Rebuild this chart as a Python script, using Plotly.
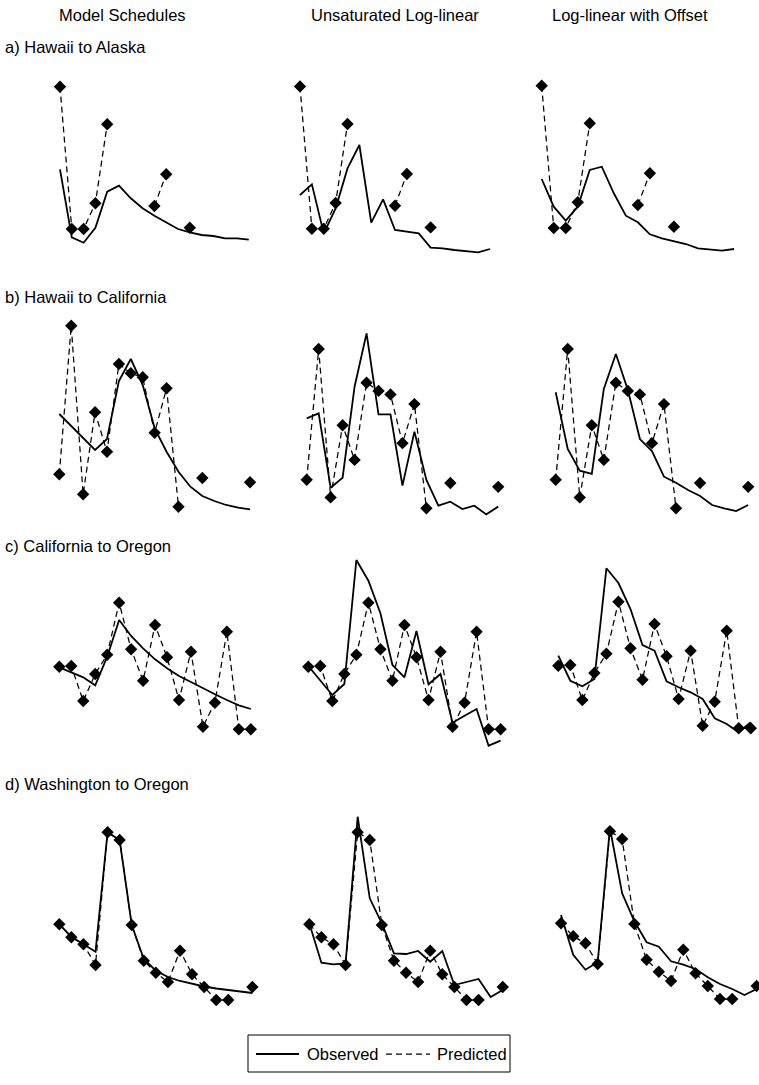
import plotly.graph_objects as go

W, H = 759, 1085

# 17 consecutive periods per flow
periods = list(range(17))

# Predicted values per origin-destination flow (None = no prediction for that period)
pred_hi_ak = [168.3, 26.0, 26.0, 51.7, 130.7, None, None, None, 49.0, 80.7, None, 27.3,
              None, None, None, None, None]
pred_hi_ca = [40.7, 189.3, 20.7, 102.7, 63.3, 151.0, 141.7, 137.7, 82.3, 126.7, 8.3, None,
              37.0, None, None, None, 32.7]
pred_ca_or = [93.3, 94.0, 59.0, 86.0, 105.3, 157.3, 110.7, 79.3, 135.0, 102.7, 60.0, 108.3,
              33.3, 57.3, 128.3, 30.7, 30.7]
pred_wa_or = [85.7, 72.7, 65.7, 45.0, 177.7, 170.0, 85.0, 49.3, 37.3, 28.0, 59.3, 35.7,
              23.0, 10.0, 10.0, None, 23.0]

# Observed values per flow, one list for each model
obs_hi_ak_schedule = [85.7, 17.7, 12.3, 27.3, 63.3, 69.3, 56.7, 46.7, 39.3, 32.7, 26.0, 22.7,
                      20.0, 19.0, 16.7, 16.7, 15.3]
obs_hi_ak_loglin = [59.7, 70.3, 21.3, 46.3, 86.3, 109.7, 32.0, 55.3, 24.7, 23.0, 21.3, 7.0,
                    6.3, 4.7, 3.3, 2.3, 5.7]
obs_hi_ak_offset = [75.0, 47.3, 33.3, 47.3, 84.0, 87.3, 60.7, 38.3, 31.7, 19.7, 15.7, 12.7,
                    10.0, 5.7, 4.7, 3.3, 5.0]

obs_hi_ca_schedule = [101.0, 89.0, 76.7, 65.0, 76.0, 134.0, 156.0, 130.0, 86.7, 63.3, 43.3,
                      28.3, 19.0, 14.0, 10.0, 7.3, 5.7]
obs_hi_ca_loglin = [110.5, 116.2, 31.7, 43.1, 146.5, 207.1, 115.1, 115.1, 34.0, 95.4, 40.5,
                    11.3, 15.8, 7.5, 11.3, 1.4, 10.2]
obs_hi_ca_offset = [140.1, 75.7, 51.1, 47.3, 143.9, 183.6, 142.7, 87.0, 73.4, 44.2, 37.4,
                    29.1, 22.3, 12.0, 8.3, 5.2, 12.0]

obs_ca_or_schedule = [92.7, 88.0, 82.7, 74.7, 103.3, 140.0, 124.0, 111.7, 100.7, 91.7, 84.0,
                      78.0, 71.7, 65.7, 60.0, 54.7, 51.0]
obs_ca_or_loglin = [94.0, 80.0, 65.0, 76.0, 200.0, 179.3, 146.7, 95.0, 82.7, 129.0, 75.7,
                    86.0, 37.3, 44.3, 51.0, 14.3, 19.3]
obs_ca_or_offset = [103.3, 78.3, 72.7, 80.0, 190.7, 176.0, 150.0, 114.0, 108.3, 77.7, 71.7,
                    66.7, 60.0, 40.7, 35.0, 26.7, 36.7]

obs_wa_or_schedule = [85.7, 73.3, 65.7, 58.3, 177.7, 170.0, 85.0, 51.0, 39.3, 33.0, 29.0,
                      26.0, 23.5, 21.5, 20.0, 18.5, 17.0]
obs_wa_or_loglin = [86.7, 47.3, 45.7, 46.7, 193.3, 111.7, 86.7, 56.7, 56.0, 59.0, 48.3,
                    59.0, 25.0, 28.0, 31.0, 13.0, 20.0]
obs_wa_or_offset = [94.0, 54.3, 39.3, 46.7, 181.0, 115.7, 87.7, 66.7, 62.3, 47.7, 44.3,
                    40.0, 31.7, 25.0, 20.0, 14.0, 20.0]

models = ["Model Schedules", "Unsaturated Log-linear", "Log-linear with Offset"]
flows = ["a) Hawaii to Alaska", "b) Hawaii to California",
         "c) California to Oregon", "d) Washington to Oregon"]

predicted = [pred_hi_ak, pred_hi_ca, pred_ca_or, pred_wa_or]
observed = [
    [obs_hi_ak_schedule, obs_hi_ak_loglin, obs_hi_ak_offset],
    [obs_hi_ca_schedule, obs_hi_ca_loglin, obs_hi_ca_offset],
    [obs_ca_or_schedule, obs_ca_or_loglin, obs_ca_or_offset],
    [obs_wa_or_schedule, obs_wa_or_loglin, obs_wa_or_offset],
]

# Panel placement in pixels: first period x, spacing per period, baseline y, pixels per unit
panel_geom = [
    [(60.0, 11.80, 255.0, 1.0), (300.0, 11.875, 254.7, 1.0), (541.7, 12.02, 254.0, 1.0)],
    [(59.3, 11.92, 515.0, 1.0), (306.7, 11.97, 515.6, 0.88), (555.7, 12.03, 515.6, 0.88)],
    [(59.3, 11.97, 760.0, 1.0), (308.3, 12.02, 760.0, 1.0), (558.3, 12.03, 759.0, 1.0)],
    [(59.3, 12.07, 1010.0, 1.0), (309.3, 12.09, 1010.0, 1.0), (561.0, 12.23, 1009.0, 1.0)],
]
row_band = [(65, 275), (300, 535), (545, 780), (795, 1025)]

FONT = "Liberation Sans, Arial, Helvetica, sans-serif"
FSIZE = 16.5
DASH = "6px,4px"

fig = go.Figure()
layout = {}
n = 0
for r in range(4):
    top_px, bot_px = row_band[r]
    for c in range(3):
        n += 1
        x0, step, base, k = panel_geom[r][c]
        lpx = max(0.0, x0 - 14)
        rpx = min(W, x0 + 16 * step + 14)
        xr = [(lpx - x0) / step, (rpx - x0) / step]
        yr = [(base - bot_px) / k, (base - top_px) / k]
        sfx = "" if n == 1 else str(n)
        layout[f"xaxis{sfx}"] = dict(domain=[lpx / W, rpx / W], range=xr, visible=False,
                                     fixedrange=True, anchor=f"y{sfx}")
        layout[f"yaxis{sfx}"] = dict(domain=[1 - bot_px / H, 1 - top_px / H], range=yr,
                                     visible=False, fixedrange=True, anchor=f"x{sfx}")
        fig.add_trace(go.Scatter(
            x=periods, y=predicted[r], mode="lines+markers",
            line=dict(color="black", width=1.25, dash=DASH),
            marker=dict(symbol="diamond", size=9.5, color="black"),
            connectgaps=False, cliponaxis=False, showlegend=False, hoverinfo="skip",
            xaxis=f"x{sfx}", yaxis=f"y{sfx}"))
        fig.add_trace(go.Scatter(
            x=periods, y=observed[r][c], mode="lines",
            line=dict(color="black", width=1.8),
            showlegend=False, hoverinfo="skip",
            xaxis=f"x{sfx}", yaxis=f"y{sfx}"))

annotations = []
for text, cx in zip(models, [122, 395, 630]):
    annotations.append(dict(text=text, x=cx / W, y=1 - 15 / H, xref="paper", yref="paper",
                            xanchor="center", yanchor="middle", showarrow=False,
                            font=dict(family=FONT, size=FSIZE, color="black")))
for text, cy in zip(flows, [47, 297, 546, 784]):
    annotations.append(dict(text=text, x=3 / W, y=1 - cy / H, xref="paper", yref="paper",
                            xanchor="left", yanchor="middle", showarrow=False,
                            font=dict(family=FONT, size=FSIZE, color="black")))

# Legend box drawn in paper space
ly = 1 - 1054 / H
shapes = [
    dict(type="rect", xref="paper", yref="paper", x0=248 / W, x1=510 / W,
         y0=1 - 1072 / H, y1=1 - 1035 / H, line=dict(color="black", width=1)),
    dict(type="line", xref="paper", yref="paper", x0=256 / W, x1=299 / W, y0=ly, y1=ly,
         line=dict(color="black", width=1.8)),
    dict(type="line", xref="paper", yref="paper", x0=386 / W, x1=430 / W, y0=ly, y1=ly,
         line=dict(color="black", width=1.25, dash=DASH)),
]
annotations.append(dict(text="Observed", x=305 / W, y=ly, xref="paper", yref="paper",
                        xanchor="left", yanchor="middle", showarrow=False,
                        font=dict(family=FONT, size=FSIZE, color="black")))
annotations.append(dict(text="Predicted", x=435 / W, y=ly, xref="paper", yref="paper",
                        xanchor="left", yanchor="middle", showarrow=False,
                        font=dict(family=FONT, size=FSIZE, color="black")))

fig.update_layout(width=W, height=H, margin=dict(l=0, r=0, t=0, b=0),
                  paper_bgcolor="white", plot_bgcolor="white",
                  annotations=annotations, shapes=shapes, **layout)

fig.write_html("out.html")
